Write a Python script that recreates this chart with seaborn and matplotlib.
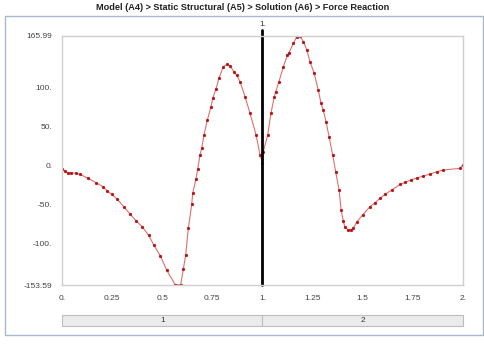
import matplotlib
matplotlib.use("Agg")
import matplotlib.pyplot as plt
from matplotlib.patches import Rectangle
import numpy as np
import pandas as pd
import seaborn as sns

# Force reaction over time
time = [0.0, 0.015, 0.030, 0.045, 0.070, 0.090, 0.130, 0.170, 0.204, 0.226,
        0.248, 0.276, 0.308, 0.339, 0.369, 0.400, 0.432, 0.459, 0.491, 0.522,
        0.564, 0.592, 0.605, 0.617, 0.630, 0.647, 0.652, 0.668, 0.677, 0.688,
        0.697, 0.708, 0.725, 0.743, 0.752, 0.767, 0.783, 0.804, 0.824, 0.838,
        0.859, 0.871, 0.888, 0.913, 0.938, 0.968, 0.988, 1.0,
        1.004, 1.026, 1.042, 1.059, 1.066, 1.082, 1.104, 1.124, 1.132, 1.154,
        1.171, 1.187, 1.204, 1.221, 1.237, 1.258, 1.278, 1.292, 1.303, 1.317,
        1.332, 1.350, 1.365, 1.382, 1.392, 1.403, 1.411, 1.428, 1.441, 1.453,
        1.470, 1.501, 1.536, 1.561, 1.586, 1.611, 1.644, 1.686, 1.711, 1.739,
        1.769, 1.802, 1.835, 1.869, 1.902, 1.985, 2.0]
force = [-4.1, -7.3, -9.9, -9.5, -10.3, -11.6, -16.7, -22.3, -27.4, -33.0,
         -37.2, -43.6, -53.1, -62.5, -71.1, -78.8, -89.8, -102.7, -116.4, -134.4,
         -153.0, -153.0, -133.5, -115.1, -80.9, -50.1, -35.9, -17.6, -4.7, 13.2,
         21.8, 38.9, 58.1, 75.2, 86.0, 97.5, 111.7, 126.6, 129.6, 127.5,
         119.4, 115.9, 107.3, 88.1, 66.7, 38.9, 13.2, 3.0,
         17.5, 38.9, 66.7, 88.1, 94.5, 107.3, 126.6, 141.6, 144.5, 156.6,
         165.3, 165.99, 158.6, 148.0, 133.0, 118.1, 96.6, 79.6, 71.0, 56.0,
         36.7, 13.2, -8.2, -31.7, -57.4, -71.5, -79.6, -83.0, -83.0, -80.5,
         -72.8, -63.2, -53.1, -48.0, -42.4, -37.2, -31.7, -24.6, -21.8, -18.9,
         -16.3, -13.7, -11.2, -8.2, -6.0, -3.9, 0.4]

x_ticks = [0, 0.25, 0.5, 0.75, 1, 1.25, 1.5, 1.75, 2]
x_labels = ["0.", "0.25", "0.5", "0.75", "1.", "1.25", "1.5", "1.75", "2."]
y_ticks = [-153.59, -100, -50, 0, 50, 100, 165.99]
y_labels = ["-153.59", "-100.", "-50.", "0.", "50.", "100.", "165.99"]
steps = ["1", "2"]
step_edges = [0, 1, 2]

sns.set_style("white")
plt.rcParams["font.family"] = ["Liberation Sans", "DejaVu Sans"]

df = pd.DataFrame({"time": time, "force": force})

fig = plt.figure(figsize=(4.85, 3.48), dpi=100)
ax = fig.add_axes([62 / 485, 1 - 285 / 348, 401 / 485, 249 / 348])

sns.lineplot(data=df, x="time", y="force", ax=ax, color="#dd7070", lw=0.8,
             marker="o", markersize=2.0, markerfacecolor="#b01010",
             markeredgecolor="#b01010", markeredgewidth=0.3,
             estimator=None, sort=False)

ax.set_xlim(0, 2)
ax.set_ylim(-153.59, 165.99)
ax.set_xticks(x_ticks)
ax.set_xticklabels(x_labels)
ax.set_yticks(y_ticks)
ax.set_yticklabels(y_labels)
ax.set_xlabel("")
ax.set_ylabel("")
ax.tick_params(axis="both", labelsize=6, colors="#c8c8c8", labelcolor="#444444",
               length=3, width=0.8, direction="out", pad=4)
for s in ax.spines.values():
    s.set_color("#cfcfcf")
    s.set_linewidth(1.0)

# current time marker
ax.axvline(1.0, ymin=0, ymax=1 + 6 / 249, color="black", lw=2.0, clip_on=False)
ax.text(1.0, 1 + 8 / 249, "1.", transform=ax.get_xaxis_transform(),
        ha="center", va="bottom", fontsize=6, color="#333333")

fig.text(0.5, 1 - 8 / 348, "Model (A4) > Static Structural (A5) > Solution (A6) > Force Reaction",
         ha="center", va="center", fontsize=6.6, fontweight="bold", color="#222222")

# step bar under the chart
bar = fig.add_axes([62 / 485, 1 - 326 / 348, 401 / 485, 11 / 348])
bar.set_xlim(0, 2)
bar.set_ylim(0, 1)
for i, lab in enumerate(steps):
    bar.add_patch(Rectangle((step_edges[i], 0), step_edges[i + 1] - step_edges[i], 1,
                            fc="#ebebeb", ec="#bdbdbd", lw=0.8, clip_on=False))
    bar.text((step_edges[i] + step_edges[i + 1]) / 2, 0.5, lab, ha="center",
             va="center", fontsize=6, color="#333333")
bar.set_axis_off()

# outer frame
fig.patches.append(Rectangle((5 / 485, 1 - 335 / 348), 478 / 485, 319 / 348,
                             transform=fig.transFigure, fill=False,
                             ec="#a9b8cc", lw=1.0))

fig.savefig("out.png", dpi=100)
